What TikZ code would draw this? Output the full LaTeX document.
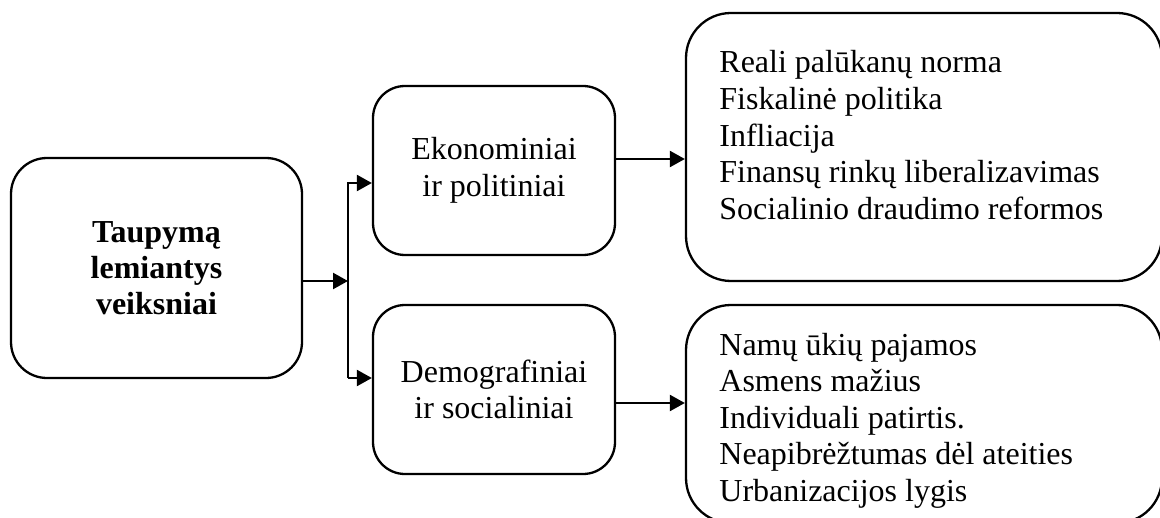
\documentclass[tikz,border=0pt]{standalone}
\usepackage{fontspec}
\setmainfont{Liberation Serif}
\usetikzlibrary{arrows.meta}
\begin{document}
\begin{tikzpicture}[x=0.5pt,y=-0.5pt,
  box/.style={draw, line width=1.15pt, rounded corners=16pt, inner sep=0pt, align=center,
    font=\fontsize{16}{18.3}\selectfont},
  itemtext/.style={anchor=base west, inner sep=0pt, font=\fontsize{16}{18.3}\selectfont},
  arr/.style={line width=1.15pt, -{Triangle[length=7.5pt,width=8pt]}}]
\useasboundingbox (0,0) rectangle (1160,518);
% boxes
\node[box, rounded corners=18pt, minimum width=145.5pt, minimum height=110pt,
      font=\fontsize{16}{18}\selectfont\bfseries] (tau) at (156.5,268) {Taupymą\\lemiantys\\veiksniai};
\node[box, minimum width=121pt, minimum height=84.5pt] (eko) at (494,170.5) {Ekonominiai\\ir politiniai};
\node[box, minimum width=121pt, minimum height=84.5pt] (dem) at (494,389.5) {Demografiniai\\ir socialiniai};
\node[box, rounded corners=22.5pt, minimum width=238pt, minimum height=134pt] (rt) at (924,147) {};
\node[box, rounded corners=22.5pt, minimum width=238pt, minimum height=109pt] (rb) at (924,414) {};
% texts of the right boxes
\node[itemtext] (rttext) at (719,73) {\begin{tabular}[t]{@{}l@{}}Reali palūkanų norma\\Fiskalinė politika\\Infliacija\\Finansų rinkų liberalizavimas\\Socialinio draudimo reformos\end{tabular}};
\node[itemtext] (rbtext) at (719,355) {\begin{tabular}[t]{@{}l@{}}Namų ūkių pajamos\\Asmens mažius\\Individuali patirtis.\\Neapibrėžtumas dėl ateities\\Urbanizacijos lygis\end{tabular}};
% connectors
\coordinate (bt) at (348,183);
\coordinate (bm) at (348,281);
\coordinate (bb) at (348,378);
\coordinate (ea) at (615,159);
\coordinate (da) at (615,403);
\draw[arr] (tau.east |- bm) -- (bm);
\draw[arr] (bb) -- (bt) -- (eko.west |- bt);
\draw[arr] (bb) -- (dem.west |- bb);
\draw[arr] (eko.east |- ea) -- (rt.west |- ea);
\draw[arr] (dem.east |- da) -- (rb.west |- da);
\end{tikzpicture}
\end{document}
